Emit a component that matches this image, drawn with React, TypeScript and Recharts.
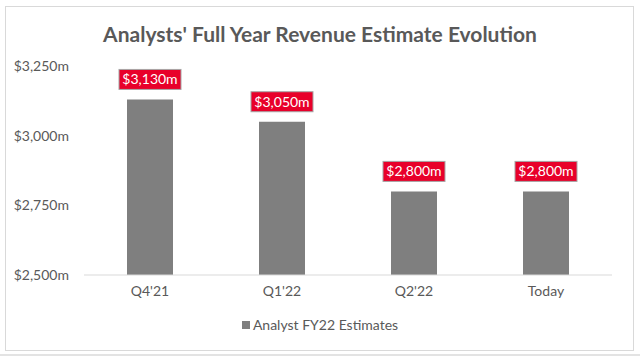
import { Bar, BarChart, Legend, XAxis, YAxis } from "recharts";

const categories = ["Q4'21", "Q1'22", "Q2'22", "Today"];
const estimates = [3130, 3050, 2800, 2800];
const yTicks = [2500, 2750, 3000, 3250];
const seriesName = "Analyst FY22 Estimates";

const data = categories.map((name, i) => ({ name, value: estimates[i] }));

const FONT = "Lato, 'Open Sans', sans-serif";
const GREY_TEXT = "#595959";

const fmt = (v: number) => `$${v.toLocaleString("en-US")}m`;

function BoxLabel(props: any) {
  const { x, y, width, value } = props;
  const cx = x + width / 2;
  const w = 62;
  const h = 20;
  const top = y - 10 - h;
  return (
    <g>
      <rect x={cx - w / 2} y={top} width={w} height={h} fill="#e8002a" stroke="#a6a6a6" strokeWidth={1} />
      <text x={cx} y={top + h / 2 + 5} textAnchor="middle" fill="#ffffff" fontSize={14} fontFamily={FONT}>
        {fmt(value)}
      </text>
    </g>
  );
}

function LegendContent() {
  return (
    <div style={{ display: "flex", justifyContent: "center", alignItems: "center", fontFamily: FONT, fontSize: 14, color: GREY_TEXT }}>
      <span style={{ width: 8, height: 8, background: "#7f7f7f", marginRight: 3, display: "inline-block" }} />
      {seriesName}
    </div>
  );
}

export default function App() {
  return (
    <div style={{ position: "absolute", left: 0, top: 0, width: 640, height: 358, background: "#fff" }}>
      <div style={{ position: "absolute", left: 5, top: 6, width: 627, height: 343, border: "1px solid #d9d9d9" }} />
      <div style={{ position: "absolute", left: 0, top: 354, width: 640, height: 2, background: "#e3e3e3" }} />
      <div
        style={{
          position: "absolute",
          top: 21,
          left: 0,
          width: 640,
          textAlign: "center",
          fontFamily: FONT,
          fontWeight: 700,
          fontSize: 21,
          color: GREY_TEXT,
        }}
      >
        Analysts' Full Year Revenue Estimate Evolution
      </div>
      <BarChart width={640} height={358} data={data} margin={{ top: 66, right: 28, left: 8, bottom: 36 }}>
        <XAxis
          dataKey="name"
          tickLine={false}
          tickSize={0}
          tickMargin={11}
          axisLine={{ stroke: "#d9d9d9" }}
          tick={{ fill: GREY_TEXT, fontSize: 14, fontFamily: FONT }}
        />
        <YAxis
          width={76}
          domain={[2500, 3250]}
          ticks={yTicks}
          tickFormatter={fmt}
          axisLine={false}
          tickLine={false}
          tickSize={0}
          tickMargin={15}
          tick={{ fill: GREY_TEXT, fontSize: 14, fontFamily: FONT }}
        />
        <Legend verticalAlign="bottom" wrapperStyle={{ top: 316, left: 0, width: 640 }} content={<LegendContent />} />
        <Bar dataKey="value" name={seriesName} fill="#7f7f7f" barSize={46} isAnimationActive={false} label={<BoxLabel />} />
      </BarChart>
    </div>
  );
}
